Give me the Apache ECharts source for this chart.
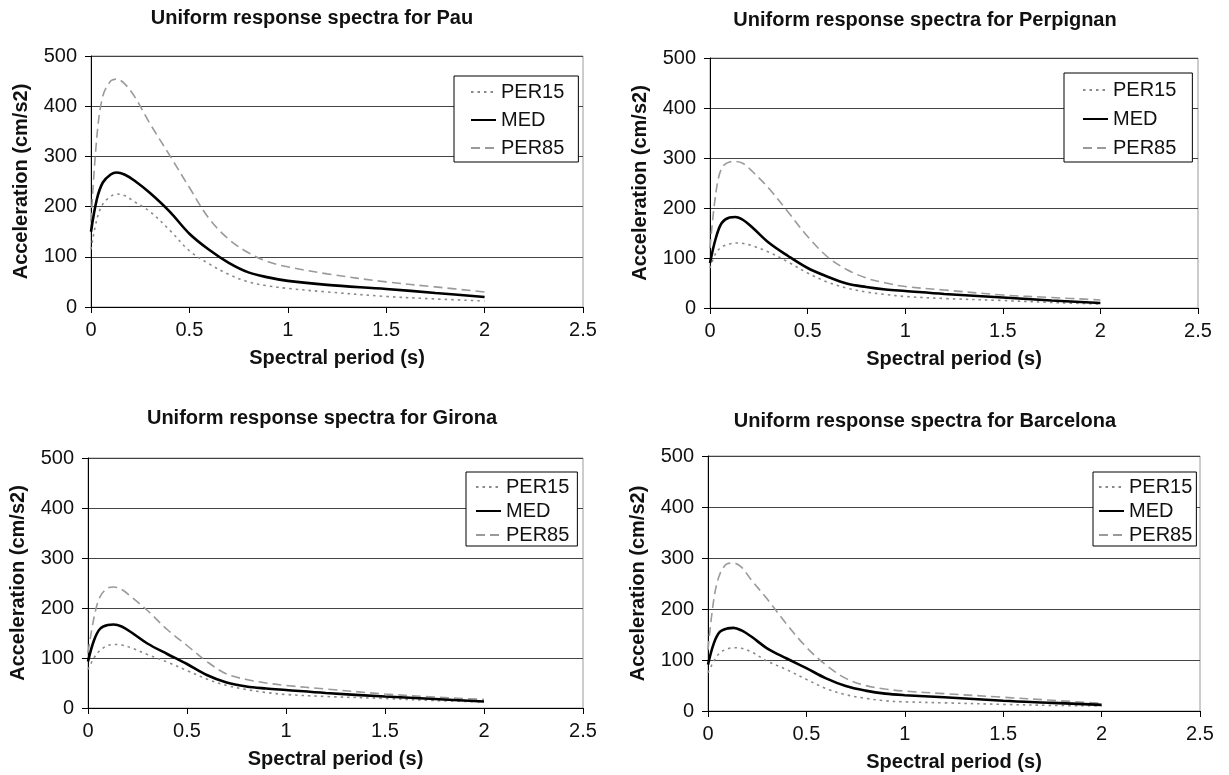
<!DOCTYPE html>
<html>
<head>
<meta charset="utf-8">
<script src="https://cdn.jsdelivr.net/npm/echarts@6/dist/echarts.min.js"></script>
<style>
html,body{margin:0;padding:0;background:#fff;}
#chart{width:1229px;height:775px;}
</style>
</head>
<body>
<div id="chart"></div>
<script>
// Spectral periods (s) at which the curves were read
const periods = [0, 0.03, 0.06, 0.1, 0.13, 0.17, 0.22, 0.3, 0.4, 0.5, 0.6, 0.7, 0.8, 0.9, 1.0, 1.2, 1.5, 1.75, 2.0];

const xTicks = [0, 0.5, 1, 1.5, 2, 2.5];
const yTicks = [0, 100, 200, 300, 400, 500];

const cities = ['Pau', 'Perpignan', 'Girona', 'Barcelona'];

// Acceleration (cm/s2)
const pauPER15 = [115, 175, 205, 220, 225, 222, 210, 190, 153, 112, 86, 65, 50, 42, 37, 30, 21, 16, 12];
const pauMED   = [150, 215, 248, 264, 268, 264, 252, 227, 190, 146, 114, 88, 69, 59, 52, 44, 36, 28, 20];
const pauPER85 = [170, 340, 420, 450, 454, 445, 420, 365, 302, 238, 176, 135, 108, 90, 80, 66, 50, 40, 30];

const perPER15 = [80, 110, 122, 128, 130, 129, 124, 112, 92, 70, 52, 40, 32, 27, 23, 19, 15, 11, 8];
const perMED   = [90, 140, 170, 181, 182, 176, 160, 131, 104, 80, 63, 49, 42, 37, 34, 28, 21, 15, 10];
const perPER85 = [120, 230, 280, 292, 293, 289, 272, 240, 192, 143, 103, 77, 60, 50, 43, 36, 26, 21, 16];

const giroPER15 = [77, 100, 115, 125, 127, 126, 120, 107, 92, 75, 58, 45, 37, 31, 27, 23, 19, 15, 12];
const giroMED   = [93, 135, 158, 166, 167, 163, 151, 129, 108, 88, 66, 51, 43, 39, 36, 30, 23, 18, 13];
const giroPER85 = [110, 180, 222, 240, 242, 237, 222, 195, 157, 125, 93, 68, 57, 50, 45, 38, 28, 22, 17];

const barcPER15 = [75, 98, 114, 122, 124, 123, 116, 98, 81, 62, 44, 32, 25, 20, 18, 16, 13, 11, 10];
const barcMED   = [91, 133, 155, 162, 163, 158, 146, 123, 103, 84, 64, 49, 40, 34, 31, 27, 20, 16, 12];
const barcPER85 = [120, 220, 268, 289, 290, 282, 257, 220, 170, 125, 90, 64, 50, 43, 39, 34, 27, 21, 15];

const seriesNames = ['PER15', 'MED', 'PER85'];
const panelData = [
  [pauPER15, pauMED, pauPER85],
  [perPER15, perMED, perPER85],
  [giroPER15, giroMED, giroPER85],
  [barcPER15, barcMED, barcPER85]
];

// ---- layout / styles ----
const FONT = 'Liberation Sans, Arial, Helvetica, sans-serif';
const grids = [
  {left: 91, top: 56, width: 492, height: 251},
  {left: 710, top: 58, width: 488, height: 250},
  {left: 88, top: 458, width: 495, height: 250},
  {left: 708, top: 456, width: 492, height: 255}
];
const titlePos = [
  {x: 312, y: 8}, {x: 925, y: 10}, {x: 322, y: 408}, {x: 925, y: 411}
];
const legendPos = [
  {left: 454, top: 76, padding: [6, 14, 4, 16], gap: 8},
  {left: 1064, top: 73, padding: [7, 16, 4, 18], gap: 9},
  {left: 466, top: 472, padding: [5, 8, 1, 9], gap: 4},
  {left: 1093, top: 472, padding: [5, 4, 1, 5], gap: 4}
];
const lineStyles = [
  {color: '#8a8a8a', width: 1.6, type: [2.5, 4]},
  {color: '#000000', width: 2.6, type: 'solid'},
  {color: '#9a9a9a', width: 1.6, type: [9, 5]}
];

const option = {
  backgroundColor: '#ffffff',
  animation: false,
  textStyle: {fontFamily: FONT},
  title: [], grid: [], xAxis: [], yAxis: [], legend: [], series: []
};

for (let p = 0; p < 4; p++) {
  const g = grids[p];
  option.grid.push({left: g.left, top: g.top, width: g.width, height: g.height,
    show: true, borderColor: '#9a9a9a', borderWidth: 1, backgroundColor: 'transparent'});
  option.title.push({
    text: 'Uniform response spectra for ' + cities[p],
    left: titlePos[p].x, top: titlePos[p].y, textAlign: 'center', padding: 0,
    textStyle: {fontFamily: FONT, fontSize: 20, fontWeight: 'bold', color: '#111'}
  });
  option.xAxis.push({
    type: 'value', gridIndex: p, min: xTicks[0], max: xTicks[xTicks.length - 1], interval: 0.5,
    name: 'Spectral period (s)', nameLocation: 'middle', nameGap: 41,
    nameTextStyle: {fontFamily: FONT, fontSize: 20, fontWeight: 'bold', color: '#111'},
    axisLine: {show: true, onZero: false, lineStyle: {color: '#000', width: 1}},
    axisTick: {show: true, length: 6, inside: false, lineStyle: {color: '#000'}},
    axisLabel: {fontFamily: FONT, fontSize: 20, color: '#111', margin: 13,
      formatter: v => String(v)},
    splitLine: {show: false}
  });
  option.yAxis.push({
    type: 'value', gridIndex: p, min: yTicks[0], max: yTicks[yTicks.length - 1], interval: 100,
    name: 'Acceleration (cm/s2)', nameLocation: 'middle', nameGap: 60,
    nameTextStyle: {fontFamily: FONT, fontSize: 20, fontWeight: 'bold', color: '#111'},
    axisLine: {show: true, onZero: false, lineStyle: {color: '#000', width: 1}},
    axisTick: {show: true, length: 6, inside: false, lineStyle: {color: '#000'}},
    axisLabel: {fontFamily: FONT, fontSize: 20, color: '#111', margin: 14},
    splitLine: {show: true, lineStyle: {color: '#444', width: 1}}
  });
  const lp = legendPos[p];
  option.legend.push({
    orient: 'vertical', left: lp.left, top: lp.top, padding: lp.padding, itemGap: lp.gap,
    itemWidth: 25, itemHeight: 20,
    borderColor: '#000', borderWidth: 1, backgroundColor: '#fff', borderRadius: 0,
    itemStyle: {opacity: 0},
    textStyle: {fontFamily: FONT, fontSize: 20, color: '#111', lineHeight: 20},
    data: seriesNames.slice(),
    selectedMode: false
  });
  for (let s = 0; s < 3; s++) {
    const vals = panelData[p][s];
    option.series.push({
      name: seriesNames[s],
      type: 'line', xAxisIndex: p, yAxisIndex: p,
      data: periods.map((x, i) => [x, vals[i]]),
      smooth: 0.35, symbol: 'none', showSymbol: false,
      lineStyle: Object.assign({}, lineStyles[s]),
      itemStyle: {color: lineStyles[s].color},
      z: s === 1 ? 3 : 2
    });
  }
}

const chart = echarts.init(document.getElementById('chart'), null, {renderer: 'canvas'});
chart.setOption(option);
</script>
</body>
</html>
